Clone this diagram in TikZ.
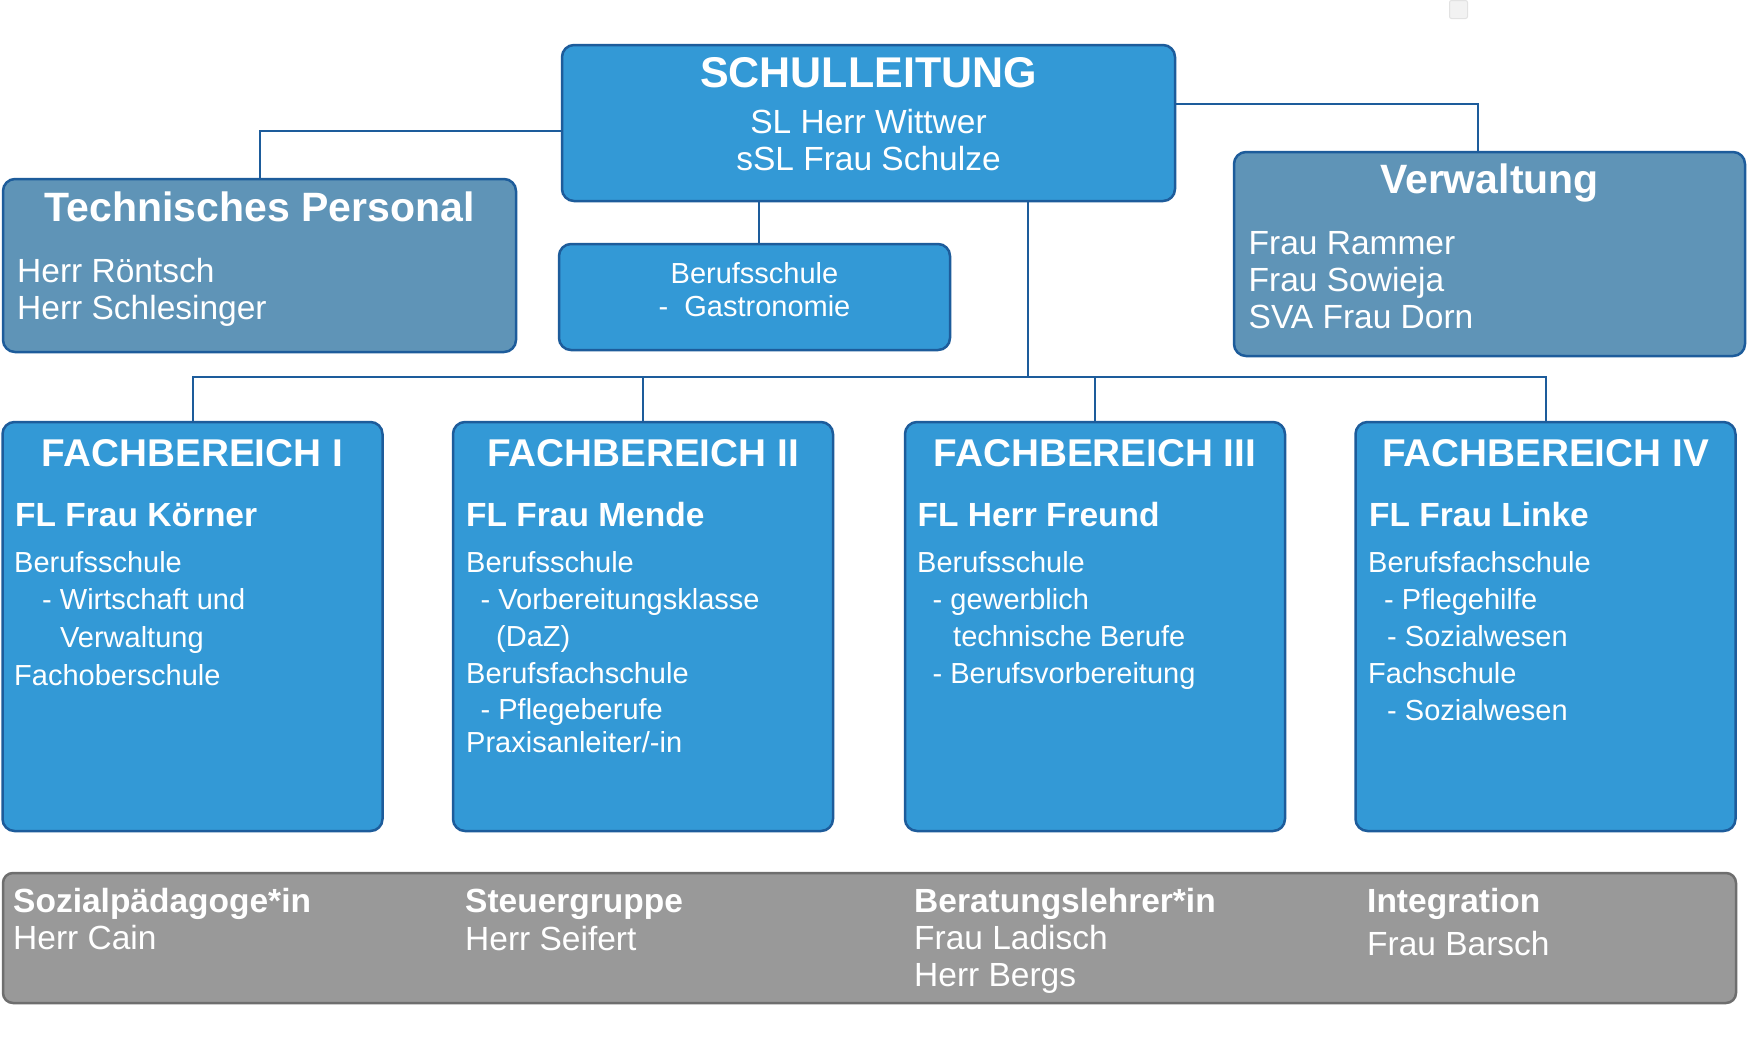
\documentclass[tikz,border=0pt]{standalone}
\usepackage{fontspec}
\setmainfont{Liberation Sans}
\definecolor{bluefill}{HTML}{3399D6}
\definecolor{blueline}{HTML}{1D5C9B}
\definecolor{steelfill}{HTML}{5F94B7}
\definecolor{grayfill}{HTML}{999999}
\definecolor{grayline}{HTML}{6E6E6E}
\newcommand\tline[4]{\node[txt,#1] (#2) at (#3) {#4};}
\begin{document}
\begin{tikzpicture}[x=1pt,y=-1pt,
  box/.style={draw=blueline, line width=2.5pt, rounded corners=12pt, inner sep=0pt},
  bluebox/.style={box, fill=bluefill},
  steelbox/.style={box, fill=steelfill},
  graybox/.style={draw=grayline, fill=grayfill, line width=2.5pt, rounded corners=10pt, inner sep=0pt},
  conn/.style={draw=blueline, line width=2pt},
  txt/.style={text=white, inner sep=0pt},
  L/.style={anchor=base west},
  C/.style={anchor=base},
  ftitle/.style={font=\fontsize{43}{50}\selectfont\bfseries},
  fhead/.style={font=\fontsize{41}{48}\selectfont\bfseries},
  ffb/.style={font=\fontsize{38.7}{45}\selectfont\bfseries},
  fname/.style={font=\fontsize{33.5}{40}\selectfont},
  fnameb/.style={font=\fontsize{33.5}{40}\selectfont\bfseries},
  fbody/.style={font=\fontsize{29}{34}\selectfont},
]
\useasboundingbox (0,0) rectangle (1748,1044);
\fill[white] (0,0) rectangle (1748,1044);
% small artifact square
\node[draw={rgb,255:red,226;green,226;blue,226}, fill={rgb,255:red,242;green,242;blue,242}, line width=1pt, rounded corners=2pt, minimum width=18pt, minimum height=18pt, inner sep=0pt] (sq) at (1458.5,9.5) {};

% boxes
\node[bluebox, minimum width=613pt, minimum height=156pt] (sl) at (868.5,123) {};
\node[steelbox, minimum width=513pt, minimum height=173pt] (tp) at (259.5,265.5) {};
\node[steelbox, minimum width=511pt, minimum height=204pt] (vw) at (1489.5,254) {};
\node[bluebox, minimum width=391pt, minimum height=106pt] (bs) at (754.5,297) {};
\node[bluebox, minimum width=380pt, minimum height=409pt] (fb1) at (192.5,626.5) {};
\node[bluebox, minimum width=380pt, minimum height=409pt] (fb2) at (643,626.5) {};
\node[bluebox, minimum width=380pt, minimum height=409pt] (fb3) at (1095,626.5) {};
\node[bluebox, minimum width=380pt, minimum height=409pt] (fb4) at (1545.5,626.5) {};
\node[graybox, minimum width=1733pt, minimum height=130pt] (bar) at (869.5,938) {};

% connectors
\coordinate (yl) at (0,131);
\coordinate (yr) at (0,104);
\coordinate (xbs) at (759,0);
\coordinate (xvw) at (1478,0);
\coordinate (jn) at (1028,377);
\draw[conn] (sl.west |- yl) -| (tp.north);
\draw[conn] (sl.east |- yr) -| (xvw |- vw.north);
\draw[conn] (xbs |- sl.south) -- (xbs |- bs.north);
\draw[conn] (jn |- sl.south) -- (jn);
\draw[conn] (fb1.north) -- (fb1.north |- jn) -- (fb4.north |- jn) -- (fb4.north);
\draw[conn] (fb2.north) -- (fb2.north |- jn);
\draw[conn] (fb3.north) -- (fb3.north |- jn);

% Schulleitung
\tline{C,ftitle}{slt}{868.5,87}{SCHULLEITUNG}
\tline{C,fname}{sla}{868.5,133}{SL Herr Wittwer}
\tline{C,fname}{slb}{868.5,170}{sSL Frau Schulze}

% Technisches Personal
\tline{C,fhead}{tpt}{259.5,221}{Technisches Personal}
\tline{L,fname}{tpa}{17,282}{Herr Röntsch}
\tline{L,fname}{tpb}{17,319}{Herr Schlesinger}

% Verwaltung
\tline{C,fhead}{vwt}{1489.5,193}{Verwaltung}
\tline{L,fname}{vwa}{1248.5,254}{Frau Rammer}
\tline{L,fname}{vwb}{1248.5,291}{Frau Sowieja}
\tline{L,fname}{vwc}{1248.5,328}{SVA Frau Dorn}

% Berufsschule Gastronomie
\tline{C,fbody}{bsa}{754.5,283}{Berufsschule}
\tline{C,fbody}{bsb}{754.5,316}{-~~Gastronomie}

% Fachbereich I
\tline{C,ffb}{f1t}{192.5,466}{FACHBEREICH I}
\tline{L,fnameb}{f1l}{15,526}{FL Frau Körner}
\tline{L,fbody}{f1a}{14,572}{Berufsschule}
\tline{L,fbody}{f1b}{42,609}{- Wirtschaft und}
\tline{L,fbody}{f1c}{60,647}{Verwaltung}
\tline{L,fbody}{f1d}{14,685}{Fachoberschule}

% Fachbereich II
\tline{C,ffb}{f2t}{643,466}{FACHBEREICH II}
\tline{L,fnameb}{f2l}{466,526}{FL Frau Mende}
\tline{L,fbody}{f2a}{466,572}{Berufsschule}
\tline{L,fbody}{f2b}{480.5,609}{- Vorbereitungsklasse}
\tline{L,fbody}{f2c}{496,646}{(DaZ)}
\tline{L,fbody}{f2d}{466,683}{Berufsfachschule}
\tline{L,fbody}{f2e}{480.5,719}{- Pflegeberufe}
\tline{L,fbody}{f2f}{466,752}{Praxisanleiter/-in}

% Fachbereich III
\tline{C,ffb}{f3t}{1095,466}{FACHBEREICH III}
\tline{L,fnameb}{f3l}{917.5,526}{FL Herr Freund}
\tline{L,fbody}{f3a}{917,572}{Berufsschule}
\tline{L,fbody}{f3b}{932.5,609}{- gewerblich}
\tline{L,fbody}{f3c}{953,646}{technische Berufe}
\tline{L,fbody}{f3d}{932.5,683}{- Berufsvorbereitung}

% Fachbereich IV
\tline{C,ffb}{f4t}{1545.5,466}{FACHBEREICH IV}
\tline{L,fnameb}{f4l}{1369,526}{FL Frau Linke}
\tline{L,fbody}{f4a}{1368,572}{Berufsfachschule}
\tline{L,fbody}{f4b}{1384,609}{- Pflegehilfe}
\tline{L,fbody}{f4c}{1387,646}{- Sozialwesen}
\tline{L,fbody}{f4d}{1368,683}{Fachschule}
\tline{L,fbody}{f4e}{1387,720}{- Sozialwesen}

% bottom bar
\tline{L,fnameb}{ba1}{13,912}{Sozialpädagoge*in}
\tline{L,fname}{ba2}{13,949}{Herr Cain}
\tline{L,fnameb}{bb1}{465,912.5}{Steuergruppe}
\tline{L,fname}{bb2}{465,950}{Herr Seifert}
\tline{L,fnameb}{bc1}{914,912}{Beratungslehrer*in}
\tline{L,fname}{bc2}{914,949}{Frau Ladisch}
\tline{L,fname}{bc3}{914,986.5}{Herr Bergs}
\tline{L,fnameb}{bd1}{1367,912.5}{Integration}
\tline{L,fname}{bd2}{1367,955}{Frau Barsch}
\end{tikzpicture}
\end{document}
